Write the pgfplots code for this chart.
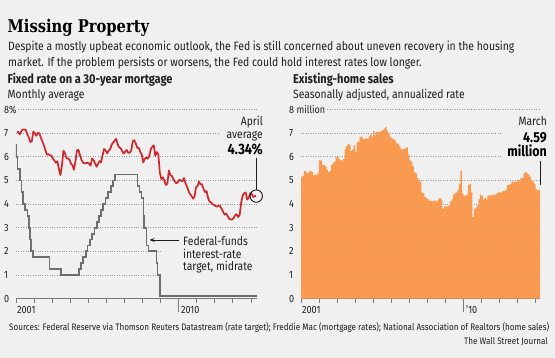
\documentclass[border=0pt]{standalone}
\usepackage{fontspec}
\setmainfont{Fira Sans}[FakeStretch=0.86]
\newfontfamily\titlefont{DejaVu Serif}[FakeStretch=0.84]
\usepackage{pgfplots}
\usepackage{pgfplotstable}
\pgfplotsset{compat=1.18}
\usetikzlibrary{arrows.meta}

\definecolor{bg}{HTML}{F0F0F0}
\definecolor{wsjred}{HTML}{D2262A}
\definecolor{fedgray}{HTML}{6E6E6E}
\definecolor{bars}{HTML}{F99A50}
\definecolor{gridc}{HTML}{9A9A9A}
\definecolor{txt}{HTML}{1E1E1E}
\definecolor{axc}{HTML}{7A7A7A}

% 30-year fixed mortgage, monthly average, Jan 2001 - Apr 2014
\pgfplotstableread{
y
7.03
7.05
6.95
7.08
7.15
7.16
7.13
6.95
6.82
6.62
6.66
7.07
7.00
6.89
7.01
6.99
6.81
6.65
6.49
6.29
6.09
6.11
6.07
6.05
5.92
5.84
5.75
5.81
5.48
5.23
5.63
6.26
6.15
5.95
5.93
5.88
5.71
5.64
5.45
5.83
6.27
6.29
6.06
5.87
5.75
5.72
5.73
5.75
5.71
5.63
5.93
5.86
5.72
5.58
5.70
5.82
5.77
6.07
6.33
6.27
6.15
6.25
6.32
6.51
6.60
6.68
6.76
6.52
6.40
6.36
6.24
6.14
6.22
6.29
6.16
6.18
6.26
6.66
6.70
6.57
6.38
6.38
6.21
6.10
5.76
5.92
5.97
5.92
6.04
6.32
6.43
6.48
6.04
6.20
6.09
5.33
5.06
5.13
5.00
4.81
4.86
5.42
5.22
5.19
5.06
4.95
4.88
4.93
5.03
4.99
4.97
5.10
4.89
4.74
4.56
4.43
4.35
4.23
4.30
4.71
4.76
4.95
4.84
4.84
4.64
4.51
4.55
4.27
4.11
4.07
3.99
3.96
3.92
3.89
3.95
3.91
3.80
3.68
3.55
3.60
3.50
3.38
3.35
3.35
3.41
3.53
3.57
3.45
3.54
4.07
4.37
4.46
4.49
4.19
4.26
4.46
4.43
4.30
4.34
4.34
}\mortgage

% Federal-funds target midrate (x = months since Jan 2001)
\pgfplotstableread{
x y
0 6.5
0.1 6.0
1.0 5.5
2.6 5.0
3.6 4.5
4.5 4.0
5.9 3.75
7.7 3.5
8.6 3.0
9.1 2.5
10.2 2.0
11.35 1.75
22.2 1.25
29.8 1.0
41.97 1.25
43.3 1.5
44.7 1.75
46.3 2.0
47.45 2.25
49.05 2.5
50.7 2.75
52.1 3.0
53.97 3.25
55.3 3.5
56.65 3.75
58.0 4.0
59.4 4.25
61.0 4.5
62.9 4.75
64.3 5.0
65.95 5.25
80.6 4.75
82.0 4.5
83.35 4.25
84.7 3.5
85.0 3.0
86.6 2.25
88.0 2.0
93.25 1.5
93.95 1.0
95.5 0.125
160 0.125
}\fedfunds

% Existing-home sales, SAAR, millions, Jan 2001 - Mar 2014
\pgfplotstableread{
y
5.15
5.2
5.4
5.35
5.3
5.35
5.4
5.35
5.2
5.25
5.25
5.3
5.85
5.85
5.65
5.65
5.6
5.45
5.35
5.4
5.65
5.75
5.8
6.0
6.0
5.9
5.85
5.85
5.9
6.35
6.45
6.55
6.5
6.25
6.3
6.5
6.22
6.6
6.65
6.85
6.85
6.75
6.75
6.8
6.75
6.85
6.95
6.85
7.1
6.9
7.05
7.05
7.05
7.1
7.13
7.2
7.25
7.1
7.0
6.85
6.8
6.75
6.7
6.6
6.55
6.45
6.35
6.3
6.35
6.35
6.4
6.1
5.85
5.8
5.6
5.35
5.3
5.1
5.0
4.95
4.5
4.45
4.3
4.25
4.2
4.15
4.15
4.1
4.15
4.15
4.1
4.2
4.25
4.2
3.8
3.9
3.9
3.9
3.95
4.1
4.2
4.4
4.45
4.5
4.6
4.85
5.4
4.45
4.35
4.35
4.4
4.8
4.85
4.5
3.45
3.8
3.85
3.95
4.2
4.4
4.35
4.2
4.25
4.2
4.35
4.4
4.35
4.4
4.4
4.4
4.45
4.5
4.5
4.5
4.55
4.55
4.6
4.8
4.8
4.85
4.95
4.95
4.95
4.95
5.0
4.95
5.1
5.1
5.3
5.35
5.3
5.25
5.15
5.0
4.95
4.85
4.6
4.6
4.59
}\homesales

\pgfplotsset{
  wsjaxis/.style={
    scale only axis,
    ymin=0, ymax=8,
    axis x line*=bottom,
    axis y line*=left,
    y axis line style={draw=none},
    ytick={0,1,...,8},
    ytick style={draw=none},
    ymajorgrids,
    major grid style={gridc, line width=0.7pt, dash pattern=on 0.8pt off 1.6pt},
    x axis line style={axc, line width=0.9pt},
    xtick style={axc, line width=0.8pt},
    tick align=outside,
    major tick length=4pt,
    xticklabels={},
    extra x tick style={major tick length=13pt, xticklabel style={draw=none}},
    extra x tick labels={},
    yticklabel style={anchor=west, xshift=-8.5pt, inner sep=0.5pt, fill=bg,
      font=\fontsize{10.5}{12}\selectfont, text=txt},
  }
}

\begin{document}
\begin{tikzpicture}[x=1pt,y=1pt]
\fill[bg] (0,0) rectangle (555,358);
\useasboundingbox (0,0) rectangle (555,358);

% ---------------- left: mortgage rate -----------------
\begin{axis}[wsjaxis,
  at={(16pt,59.3pt)}, anchor=south west,
  width=241pt, height=189.2pt,
  xmin=0, xmax=160,
  xtick={0,12,...,156},
  extra x ticks={108},
  yticklabels={0,1,2,3,4,5,6,7,8\%},
]
\addplot[const plot, fedgray, line width=1.8pt] table[x=x,y=y] {\fedfunds};
\addplot[wsjred, line width=1.7pt, line join=round] table[x expr=\coordindex+0.5, y=y] {\mortgage};
\addplot[only marks, mark=o, mark size=6.2pt, mark options={black, line width=0.8pt, fill=none}] coordinates {(159.5,4.34)};
\end{axis}

% ---------------- right: existing-home sales -----------------
\begin{axis}[wsjaxis,
  at={(301pt,59.3pt)}, anchor=south west,
  width=239pt, height=189.2pt,
  xmin=0, xmax=159,
  xtick={0,12,...,156},
  extra x ticks={108},
  yticklabels={0,1,2,3,4,5,6,7,8 million},
]
\addplot[ybar, bar width=1.06, fill=bars, draw=none] table[x expr=\coordindex+0.5, y=y] {\homesales};
\pgfplotsinvokeforeach{1,...,7}{
  \draw[gridc, opacity=0.3, line width=0.7pt, dash pattern=on 0.8pt off 1.6pt] (axis cs:0,#1) -- (axis cs:159,#1);
}
\end{axis}

% masks for gridlines behind annotations
\fill[bg] (219,198) rectangle (266,246);
\fill[bg] (161,76) rectangle (266,126);
\fill[bg] (502,198) rectangle (549,246);

% x tick labels
\begin{scope}[every node/.style={inner sep=0pt, anchor=base west, text=txt, font=\fontsize{10.5}{12}\selectfont}]
\node at (17,44.5) {2001};
\node at (181,44.5) {2010};
\node at (302,44.5) {2001};
\node at (466,44.5) {’10};
\end{scope}

% titles
\node[inner sep=0pt, anchor=base west, text=black] at (7.5,325) {\titlefont\bfseries\fontsize{17.5}{20}\selectfont Missing Property};
\begin{scope}[every node/.style={inner sep=0pt, anchor=base west, text=txt}]
\node[font=\fontsize{12.1}{14}\selectfont] at (8,307.5) {Despite a mostly upbeat economic outlook, the Fed is still concerned about uneven recovery in the housing};
\node[font=\fontsize{12.1}{14}\selectfont] at (8,291.5) {market. If the problem persists or worsens, the Fed could hold interest rates low longer.};
\node[font=\bfseries\fontsize{12.8}{14}\selectfont] at (7.5,274) {Fixed rate on a 30-year mortgage};
\node[font=\fontsize{12}{14}\selectfont] at (7.5,259) {Monthly average};
\node[font=\bfseries\fontsize{12.8}{14}\selectfont] at (293,274) {Existing-home sales};
\node[font=\fontsize{12}{14}\selectfont] at (293,259) {Seasonally adjusted, annualized rate};
\node[font=\fontsize{9.4}{11}\selectfont] at (9,27.5) {Sources: Federal Reserve via Thomson Reuters Datastream (rate target); Freddie Mac (mortgage rates); National Association of Realtors (home sales)};
\end{scope}
\node[inner sep=0pt, anchor=base east, text=txt, font=\fontsize{9.4}{11}\selectfont] at (548,13) {The Wall Street Journal};

% annotations
\begin{scope}[every node/.style={inner sep=0pt, anchor=base east, text=txt}]
\node[font=\fontsize{12}{14}\selectfont] at (263,232) {April};
\node[font=\fontsize{12}{14}\selectfont] at (263,219.5) {average};
\node[font=\bfseries\fontsize{15}{17}\selectfont, text=black] at (263,203.5) {4.34\%};
\node[font=\fontsize{12}{14}\selectfont] at (547,232.5) {March};
\node[font=\bfseries\fontsize{14.5}{17}\selectfont, text=black] at (547,215.2) {4.59};
\node[font=\bfseries\fontsize{14.5}{17}\selectfont, text=black] at (547,201.3) {million};
\end{scope}
\draw[txt, line width=0.8pt] (256,200) -- (256,167.8);
\draw[txt, line width=0.8pt] (540,196.5) -- (540,173);

% fed funds label
\begin{scope}[every node/.style={inner sep=0pt, anchor=base west, text=txt, font=\fontsize{12}{14}\selectfont}]
\node at (183,112.3) {Federal-funds};
\node at (183,99.7) {interest-rate};
\node at (183,87.7) {target, midrate};
\end{scope}
\draw[txt, line width=0.9pt, -{Stealth[length=5pt,width=4pt]}] (179,118) -- (149.5,118);
\end{tikzpicture}
\end{document}
